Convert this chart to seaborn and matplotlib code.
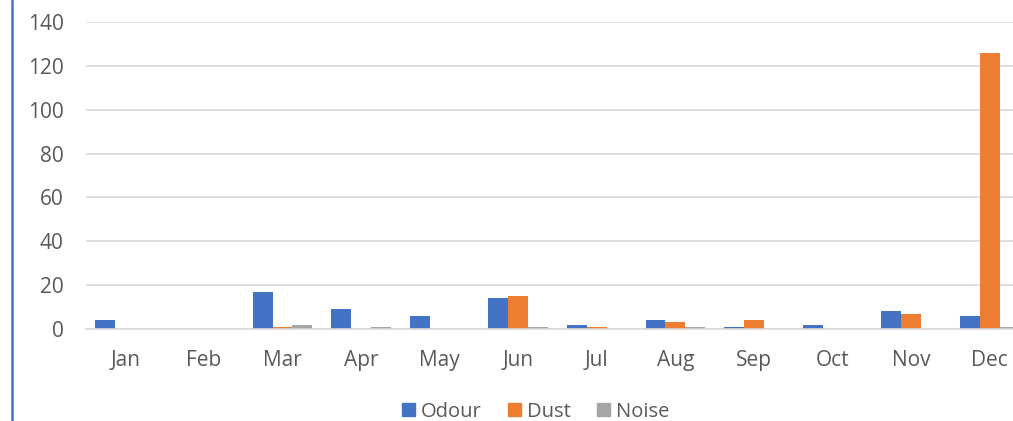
import pandas as pd
import seaborn as sns
import matplotlib.pyplot as plt
from matplotlib.lines import Line2D

# Дані
months = ['Jan', 'Feb', 'Mar', 'Apr', 'May', 'Jun', 'Jul', 'Aug', 'Sep', 'Oct', 'Nov', 'Dec']
odour = [4, 0, 17, 9, 6, 14, 2, 4, 1, 2, 8, 6]
dust = [0, 0, 1, 0, 0, 15, 1, 3, 4, 0, 7, 126]
noise = [0, 0, 2, 1, 0, 1, 0, 1, 0, 0, 0, 1]
series = ['Odour', 'Dust', 'Noise']
colors = ['#4472C4', '#ED7D31', '#A5A5A5']


def build_frame():
    rows = []
    for name, vals in zip(series, [odour, dust, noise]):
        for m, v in zip(months, vals):
            rows.append({'Month': m, 'Type': name, 'Count': v})
    return pd.DataFrame(rows)


def main():
    df = build_frame()

    sns.set_style('white')
    plt.rcParams['font.family'] = ['Open Sans', 'DejaVu Sans']

    fig = plt.figure(figsize=(10.13, 4.21), dpi=100)
    ax = fig.add_axes([0.0849, 0.2185, 0.931, 0.7292])

    sns.barplot(data=df, x='Month', y='Count', hue='Type', order=months,
                hue_order=series, palette=colors, width=0.76, gap=0,
                linewidth=0, saturation=1, ax=ax, legend=False)

    ax.set_ylim(0, 140)
    ax.set_yticks(range(0, 141, 20))
    ax.set_xlim(-0.5, 11.5)
    ax.yaxis.grid(True, color='#D9D9D9', linewidth=1.2)
    ax.set_axisbelow(True)
    for s in ['top', 'right', 'left']:
        ax.spines[s].set_visible(False)
    ax.spines['bottom'].set_color('#D9D9D9')
    ax.spines['bottom'].set_linewidth(1.2)
    ax.set_xlabel('')
    ax.set_ylabel('')
    ax.tick_params(axis='y', length=0, pad=16, labelsize=15, labelcolor='#595959')
    ax.tick_params(axis='x', length=0, pad=15, labelsize=15, labelcolor='#595959')

    # Легенда
    handles = [plt.Rectangle((0, 0), 1, 1, color=c) for c in colors]
    fig.legend(handles, series, loc='center', bbox_to_anchor=(0.529, 0.022),
               ncol=3, frameon=False, fontsize=14.5, labelcolor='#595959',
               handlelength=0.65, handleheight=0.65, handletextpad=0.3,
               columnspacing=1.3, borderpad=0)

    # Ліва синя рамка
    fig.add_artist(Line2D([0.0115, 0.0115], [0, 1], color='#4472C4', linewidth=1.8))

    fig.savefig('out.png', dpi=100)


if __name__ == "__main__":
    main()
